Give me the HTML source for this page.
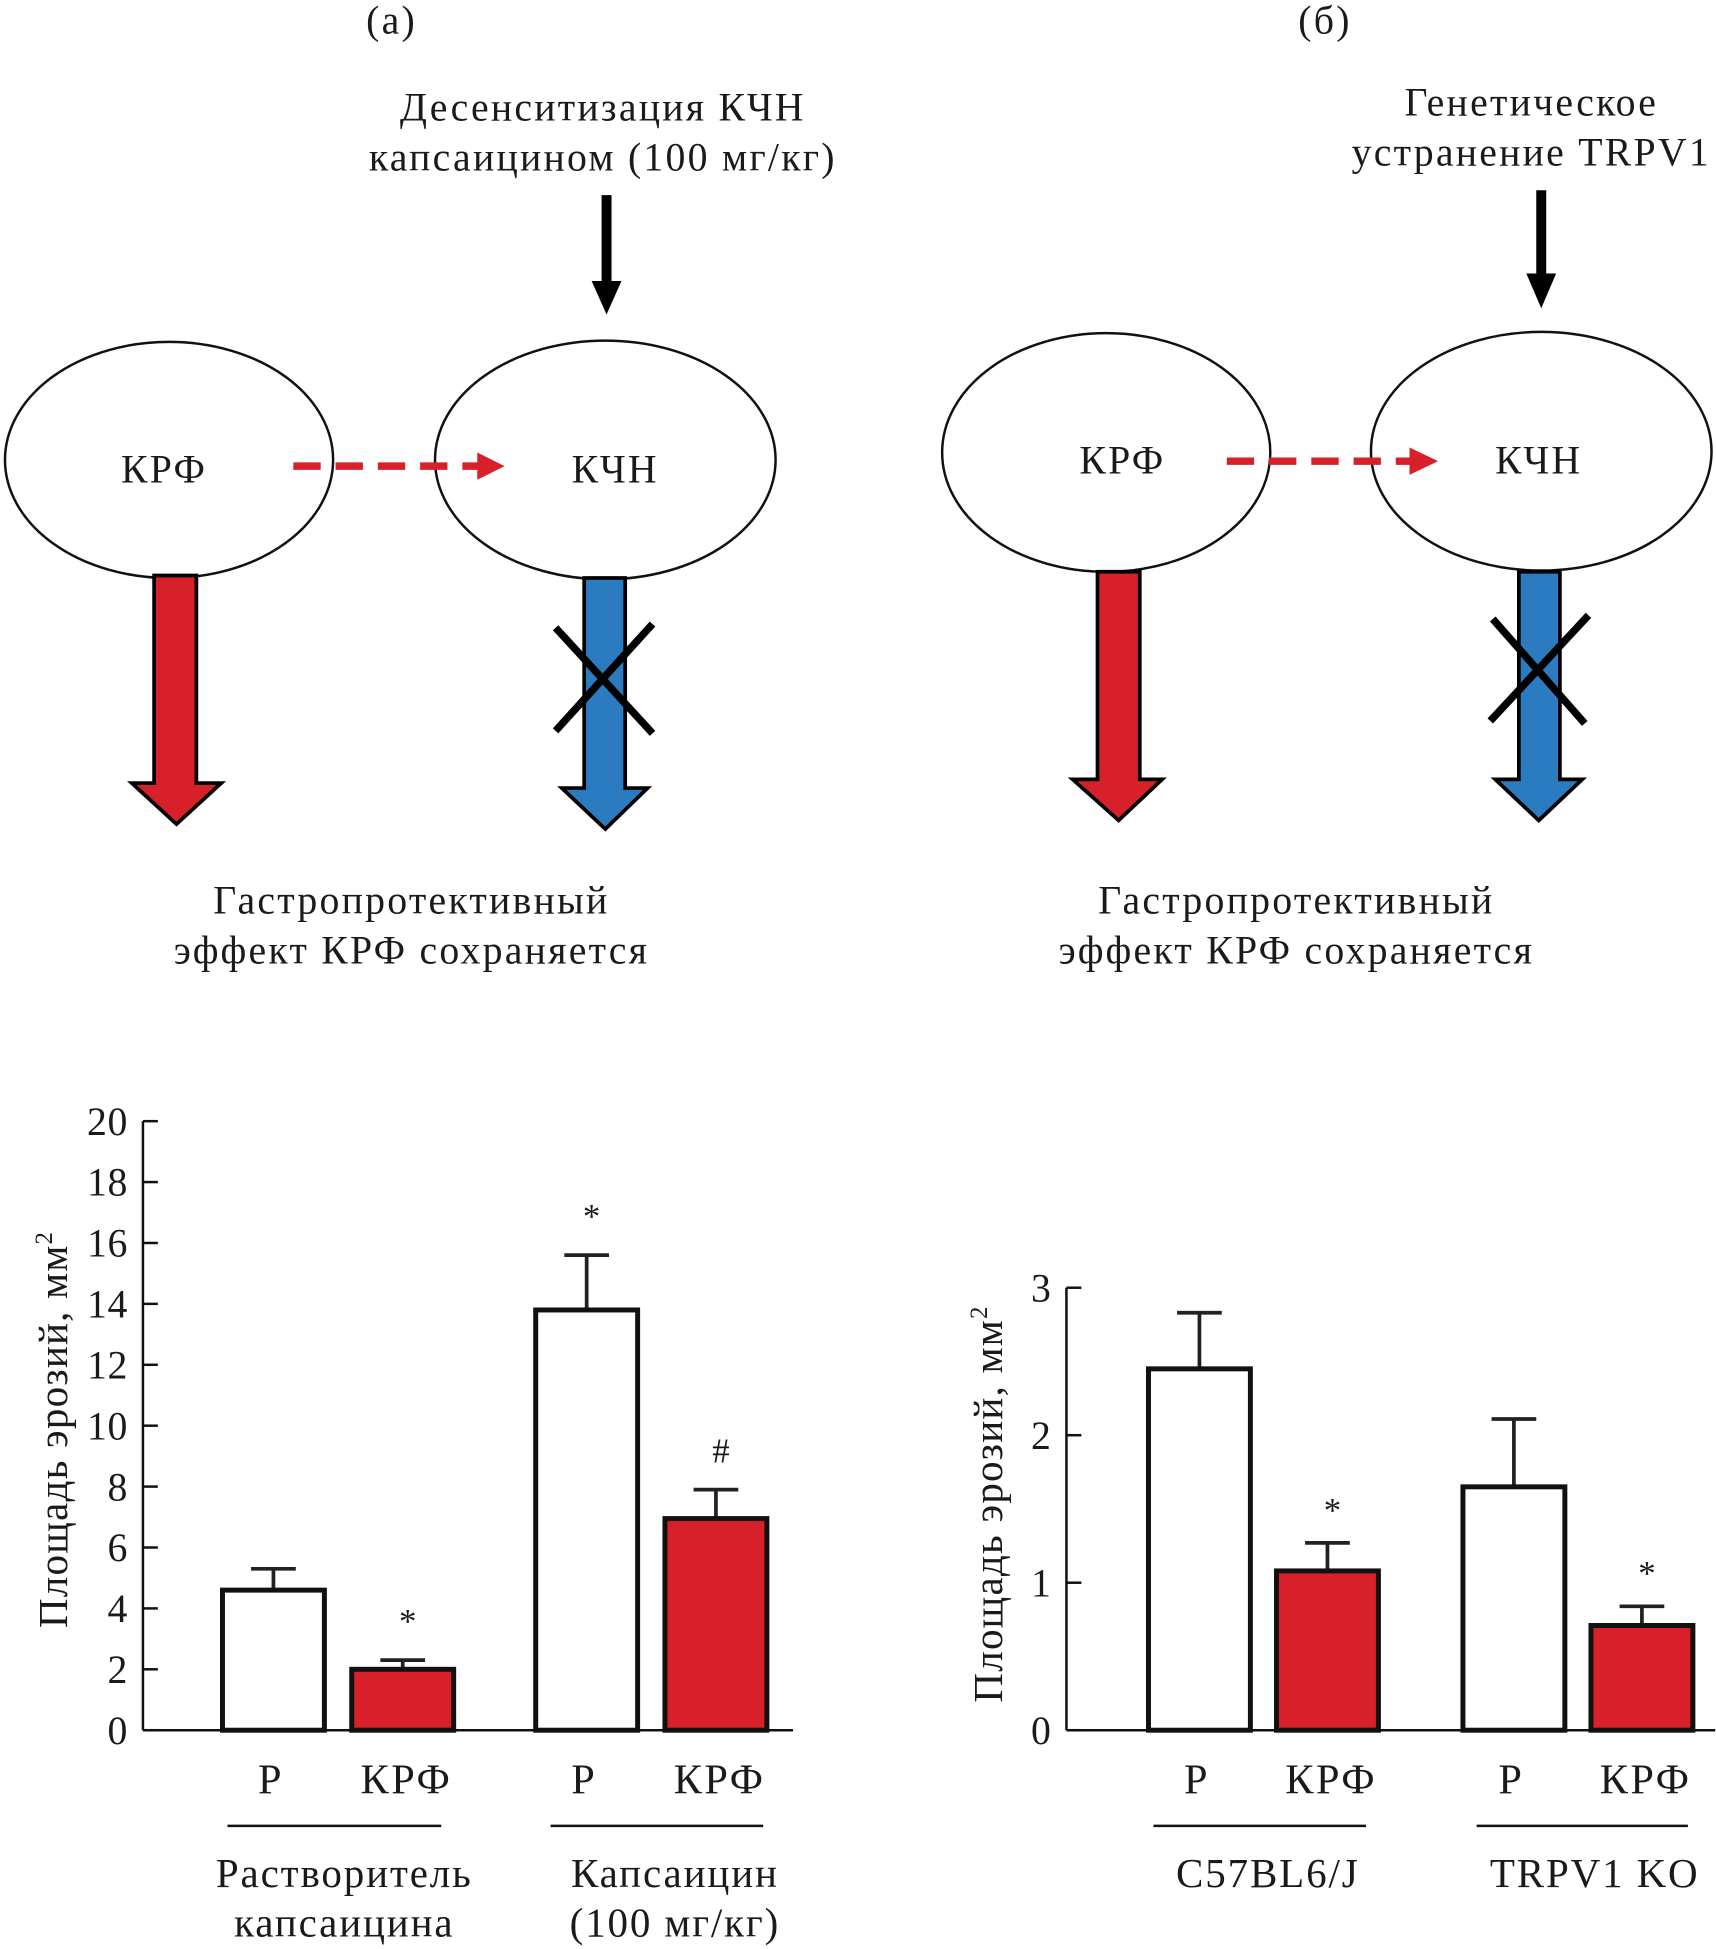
<!DOCTYPE html>
<html><head><meta charset="utf-8"><style>
html,body{margin:0;padding:0;background:#fff}
svg{display:block}
text{font-family:"Liberation Serif","DejaVu Serif",serif;fill:#1a1a1a}
</style></head><body>
<svg id="fig" width="1716" height="1949" viewBox="0 0 1380.6 1568" xmlns="http://www.w3.org/2000/svg">
<g font-size="32" letter-spacing="1.8">
<text x="315" y="27" text-anchor="middle">(а)</text>
<text x="485" y="97" text-anchor="middle">Десенситизация КЧН</text>
<text x="485" y="137" text-anchor="middle">капсаицином (100 мг/кг)</text>
<line x1="488" y1="157" x2="488" y2="228" stroke="#000" stroke-width="8"/>
<polygon points="476,226 500,226 488,253" fill="#000"/>
<ellipse cx="136" cy="370" rx="132" ry="95" fill="none" stroke="#111" stroke-width="2"/>
<ellipse cx="487" cy="370" rx="137" ry="96" fill="none" stroke="#111" stroke-width="2"/>
<text x="132" y="388" text-anchor="middle">КРФ</text>
<text x="495" y="388" text-anchor="middle">КЧН</text>
<line x1="236" y1="375" x2="388" y2="375" stroke="#d7202a" stroke-width="6" stroke-dasharray="22,12"/>
<polygon points="384,364 406,375 384,386" fill="#d7202a"/>
<polygon points="124,463 158,463 158,630 178,630 142,663 106,630 124,630" fill="#d7202a" stroke="#000" stroke-width="3"/>
<polygon points="470,465 503,465 503,634 521,634 487,667 452,634 470,634" fill="#2b7bc1" stroke="#000" stroke-width="3"/>
<line x1="447" y1="505" x2="525" y2="590" stroke="#000" stroke-width="6"/>
<line x1="525" y1="502" x2="447" y2="588" stroke="#000" stroke-width="6"/>
<text x="331" y="735" text-anchor="middle">Гастропротективный</text>
<text x="331" y="775" text-anchor="middle">эффект КРФ сохраняется</text>
</g>
<g font-size="32" letter-spacing="1.8">
<text x="1066" y="27" text-anchor="middle">(б)</text>
<text x="1232" y="93" text-anchor="middle">Генетическое</text>
<text x="1232" y="133" text-anchor="middle">устранение TRPV1</text>
<line x1="1240" y1="153" x2="1240" y2="222" stroke="#000" stroke-width="8"/>
<polygon points="1228,220 1252,220 1240,248" fill="#000"/>
<ellipse cx="890" cy="364" rx="132" ry="96" fill="none" stroke="#111" stroke-width="2"/>
<ellipse cx="1240" cy="363" rx="137" ry="96" fill="none" stroke="#111" stroke-width="2"/>
<text x="903" y="381" text-anchor="middle">КРФ</text>
<text x="1238" y="381" text-anchor="middle">КЧН</text>
<line x1="987" y1="371" x2="1138" y2="371" stroke="#d7202a" stroke-width="6" stroke-dasharray="22,12"/>
<polygon points="1134,360 1157,371 1134,382" fill="#d7202a"/>
<polygon points="883,460 917,460 917,627 935,627 900,660 863,627 883,627" fill="#d7202a" stroke="#000" stroke-width="3"/>
<polygon points="1222,460 1255,460 1255,627 1273,627 1238,660 1203,627 1222,627" fill="#2b7bc1" stroke="#000" stroke-width="3"/>
<line x1="1201" y1="498" x2="1275" y2="582" stroke="#000" stroke-width="6"/>
<line x1="1278" y1="495" x2="1199" y2="580" stroke="#000" stroke-width="6"/>
<text x="1043" y="735" text-anchor="middle">Гастропротективный</text>
<text x="1043" y="775" text-anchor="middle">эффект КРФ сохраняется</text>
</g>
<g id="chartA"></g>
<g id="chartB"></g>
</svg>
<script>
const aTicks = [0,2,4,6,8,10,12,14,16,18,20];
const aValues = [4.6, 2.0, 13.8, 6.95];
const aErrors = [5.3, 2.3, 15.6, 7.9];
const aMarks = ["", "*", "*", "#"];
const bTicks = [0,1,2,3];
const bValues = [2.45, 1.08, 1.65, 0.71];
const bErrors = [2.83, 1.27, 2.11, 0.84];
const bMarks = ["", "*", "", "*"];
const barLabels = ["Р","КРФ","Р","КРФ"];

const NS="http://www.w3.org/2000/svg";
function mk(parent, tag, attrs, txt){const e=document.createElementNS(NS,tag);for(const k in attrs)e.setAttribute(k,attrs[k]);if(txt!==undefined)e.textContent=txt;parent.appendChild(e);return e;}

function chart(g, cfg){
  const y=v=>cfg.y0-(v-cfg.min)/(cfg.max-cfg.min)*(cfg.y0-cfg.ytop);
  const ax=mk(g,'line',{x1:cfg.ax,y1:cfg.ytop,x2:cfg.ax,y2:cfg.y0,stroke:'#111','stroke-width':2});
  
  
  const xa=mk(g,'line',{x1:cfg.ax,y1:cfg.y0,x2:cfg.xend,y2:cfg.y0,stroke:'#111','stroke-width':2});
  
  
  cfg.ticks.forEach(t=>{
    mk(g,'line',{x1:cfg.ax,y1:y(t),x2:cfg.ax+12,y2:y(t),stroke:'#111','stroke-width':2});
    const tl=mk(g,'text',{x:cfg.ax-12,y:y(t)+11,'text-anchor':'end','font-size':32,'letter-spacing':0.5},String(t));
    
    
  });
  cfg.values.forEach((v,i)=>{
    const x0=cfg.bx[i], w=82, cx=x0+w/2;
    const red=i%2===1;
    mk(g,'line',{x1:cx,y1:y(v),x2:cx,y2:y(cfg.errors[i]),stroke:'#222','stroke-width':3});
    mk(g,'line',{x1:cx-18,y1:y(cfg.errors[i]),x2:cx+18,y2:y(cfg.errors[i]),stroke:'#222','stroke-width':3});
    const r=mk(g,'rect',{x:x0,y:y(v),width:w,height:cfg.y0-y(v),fill:red?'#d7202a':'#fff',stroke:'#111','stroke-width':4});
    
    
    if(cfg.marks[i]){
      const m=mk(g,'text',{x:cx+4,y:y(cfg.errors[i])-cfg.markGap,'text-anchor':'middle','font-size':28},cfg.marks[i]);
      
      
    }
    const l=mk(g,'text',{x:cx+(red?3:-2),y:cfg.y0+51,'text-anchor':'middle','font-size':34,'letter-spacing':2},barLabels[i]);
    
    
  });
  cfg.groups.forEach(gr=>{
    mk(g,'line',{x1:gr.x1,y1:cfg.y0+77,x2:gr.x2,y2:cfg.y0+77,stroke:'#111','stroke-width':2});
    gr.lines.forEach((s,k)=>{
      const t=mk(g,'text',{x:gr.cx,y:cfg.y0+126+k*40,'text-anchor':'middle','font-size':33,'letter-spacing':1.5},s);
      
      
    });
  });
  const yl=mk(g,'text',{x:0,y:0,'text-anchor':'middle','font-size':33,'letter-spacing':1,transform:`translate(${cfg.ylx},${cfg.yly}) rotate(-90)`},'Площадь эрозий, мм');
  mk(yl,'tspan',{dy:-12,'font-size':20},'2');
  
  
}
chart(document.getElementById('chartA'),{ax:115,xend:638,y0:1392,ytop:902,min:0,max:20,ticks:aTicks,values:aValues,errors:aErrors,marks:aMarks,
  bx:[179,283,431,535],markGap:22,ylx:54,yly:1150,
  groups:[{x1:183,x2:355,cx:277,lines:['Растворитель','капсаицина']},{x1:443,x2:614,cx:543,lines:['Капсаицин','(100 мг/кг)']}]});
chart(document.getElementById('chartB'),{ax:858,xend:1380,y0:1392,ytop:1036,min:0,max:3,ticks:bTicks,values:bValues,errors:bErrors,marks:bMarks,
  bx:[924,1027,1177,1280],markGap:17,ylx:806,yly:1210,
  groups:[{x1:928,x2:1099,cx:1020,lines:['C57BL6/J']},{x1:1188,x2:1358,cx:1283,lines:['TRPV1 KO']}]});
</script>
</body></html>
